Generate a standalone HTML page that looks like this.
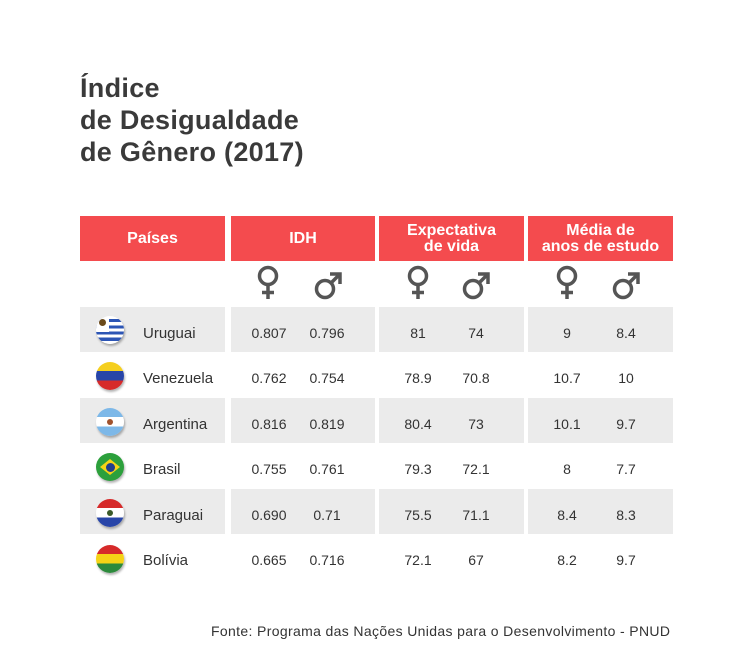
<!DOCTYPE html>
<html><head><meta charset="utf-8"><style>
body{margin:0;width:754px;height:671px;background:#fff;position:relative;font-family:"Liberation Sans",sans-serif;color:#333;overflow:hidden}
.a{position:absolute}
.t{left:80px;top:72px;font-size:27px;font-weight:bold;line-height:32px;color:#3a3a3a;letter-spacing:0.3px}
.h{background:#f44b4e;color:#fff;font-weight:bold;text-align:center;display:flex;align-items:center;justify-content:center;font-size:16px;line-height:16px;top:216px;height:45px}
.g{background:#ebebeb;height:45px}
.c{width:60px;text-align:center;font-size:14px;margin-left:-30px;line-height:16px}
.n{left:143px;font-size:15px;line-height:16px}
.f{left:96px;width:28px;height:28px;border-radius:50%;overflow:hidden;box-shadow:1px 2px 2px rgba(0,0,0,.3)}
.src{left:211px;top:623px;font-size:14px;color:#333;letter-spacing:0.35px}
</style></head><body>
<div class="a t">Índice<br>de Desigualdade<br>de Gênero (2017)</div>
<div class="a h" style="left:80px;width:145px">Países</div>
<div class="a h" style="left:231px;width:144px">IDH</div>
<div class="a h" style="left:379px;width:145px">Expectativa<br>de vida</div>
<div class="a h" style="left:528px;width:145px">Média de<br>anos de estudo</div>
<svg class="a" style="left:0;top:0" width="754" height="320">
<defs>
<g id="fe" fill="none" stroke="#555" stroke-width="3.5"><circle cx="0" cy="-6" r="8.5"/><path d="M0 2.5V17M-6 10.5H6"/></g>
<g id="ma" fill="none" stroke="#555" stroke-width="3.5"><circle cx="-3" cy="3" r="8.5"/><path d="M3 -3L11 -11M2 -12H12V-2"/></g>
</defs>
<use href="#fe" x="268" y="282"/><use href="#ma" x="328" y="286"/>
<use href="#fe" x="418" y="282"/><use href="#ma" x="476" y="286"/>
<use href="#fe" x="567" y="282"/><use href="#ma" x="626" y="286"/>
</svg>
<div class="a g" style="left:80px;width:145px;top:307px"></div><div class="a g" style="left:231px;width:144px;top:307px"></div><div class="a g" style="left:379px;width:145px;top:307px"></div><div class="a g" style="left:528px;width:145px;top:307px"></div>
<div class="a g" style="left:80px;width:145px;top:398px"></div><div class="a g" style="left:231px;width:144px;top:398px"></div><div class="a g" style="left:379px;width:145px;top:398px"></div><div class="a g" style="left:528px;width:145px;top:398px"></div>
<div class="a g" style="left:80px;width:145px;top:489px"></div><div class="a g" style="left:231px;width:144px;top:489px"></div><div class="a g" style="left:379px;width:145px;top:489px"></div><div class="a g" style="left:528px;width:145px;top:489px"></div>
<div class="a f" style="top:316px;background:repeating-linear-gradient(#fff 0 3.1px,#2c55b5 3.1px 6.2px)"><div style="width:13px;height:13px;background:#fff"><div style="margin:3px;width:7px;height:7px;border-radius:50%;background:#6b4a1a"></div></div></div>
<div class="a f" style="top:362px;background:linear-gradient(#f5cf1e 0 33%,#2845a8 33% 66%,#d62a2a 66%)"></div>
<div class="a f" style="top:408px;background:linear-gradient(#7db8e8 0 33%,#fff 33% 66%,#7db8e8 66%)"><div style="margin:11px auto;width:6px;height:6px;border-radius:50%;background:#a0522d"></div></div>
<div class="a f" style="top:453px;background:#2ca03c"><div style="margin:6px auto;width:20px;height:16px;background:#f5d316;clip-path:polygon(50% 0,100% 50%,50% 100%,0 50%);display:flex;align-items:center;justify-content:center"><div style="width:9px;height:9px;border-radius:50%;background:#203e8c"></div></div></div>
<div class="a f" style="top:499px;background:linear-gradient(#d62a2a 0 33%,#fff 33% 66%,#2845a8 66%)"><div style="margin:11px auto;width:6px;height:6px;border-radius:50%;background:#3a5a2a"></div></div>
<div class="a f" style="top:545px;background:linear-gradient(#d62a2a 0 33%,#f5d316 33% 66%,#2c8a3c 66%)"></div>
<div class="a n" style="top:326px">Uruguai</div>
<div class="a n" style="top:371px">Venezuela</div>
<div class="a n" style="top:417px">Argentina</div>
<div class="a n" style="top:462px">Brasil</div>
<div class="a n" style="top:508px">Paraguai</div>
<div class="a n" style="top:553px">Bolívia</div>
<div class="a c" style="left:269px;top:325px">0.807</div><div class="a c" style="left:327px;top:325px">0.796</div><div class="a c" style="left:418px;top:325px">81</div><div class="a c" style="left:476px;top:325px">74</div><div class="a c" style="left:567px;top:325px">9</div><div class="a c" style="left:626px;top:325px">8.4</div>
<div class="a c" style="left:269px;top:370px">0.762</div><div class="a c" style="left:327px;top:370px">0.754</div><div class="a c" style="left:418px;top:370px">78.9</div><div class="a c" style="left:476px;top:370px">70.8</div><div class="a c" style="left:567px;top:370px">10.7</div><div class="a c" style="left:626px;top:370px">10</div>
<div class="a c" style="left:269px;top:416px">0.816</div><div class="a c" style="left:327px;top:416px">0.819</div><div class="a c" style="left:418px;top:416px">80.4</div><div class="a c" style="left:476px;top:416px">73</div><div class="a c" style="left:567px;top:416px">10.1</div><div class="a c" style="left:626px;top:416px">9.7</div>
<div class="a c" style="left:269px;top:461px">0.755</div><div class="a c" style="left:327px;top:461px">0.761</div><div class="a c" style="left:418px;top:461px">79.3</div><div class="a c" style="left:476px;top:461px">72.1</div><div class="a c" style="left:567px;top:461px">8</div><div class="a c" style="left:626px;top:461px">7.7</div>
<div class="a c" style="left:269px;top:507px">0.690</div><div class="a c" style="left:327px;top:507px">0.71</div><div class="a c" style="left:418px;top:507px">75.5</div><div class="a c" style="left:476px;top:507px">71.1</div><div class="a c" style="left:567px;top:507px">8.4</div><div class="a c" style="left:626px;top:507px">8.3</div>
<div class="a c" style="left:269px;top:552px">0.665</div><div class="a c" style="left:327px;top:552px">0.716</div><div class="a c" style="left:418px;top:552px">72.1</div><div class="a c" style="left:476px;top:552px">67</div><div class="a c" style="left:567px;top:552px">8.2</div><div class="a c" style="left:626px;top:552px">9.7</div>
<div class="a src">Fonte: Programa das Nações Unidas para o Desenvolvimento - PNUD</div>
</body></html>
